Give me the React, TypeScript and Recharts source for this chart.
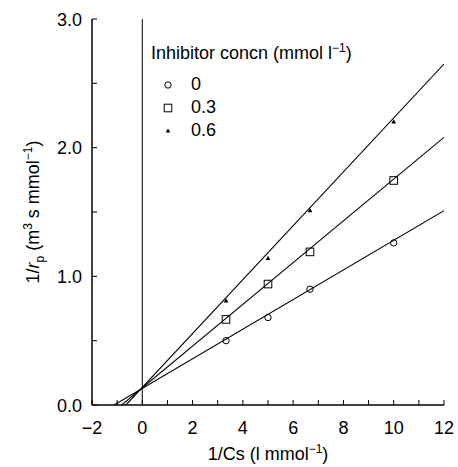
import React from "react";
import {
  ComposedChart,
  Scatter,
  Line,
  XAxis,
  YAxis,
  ReferenceLine,
  Legend,
} from "recharts";

// 1/Cs vs 1/rp, one array per inhibitor concentration
const conc0 = [
  { x: 3.33, y: 0.5 },
  { x: 5, y: 0.68 },
  { x: 6.67, y: 0.9 },
  { x: 10, y: 1.26 },
];
const conc03 = [
  { x: 3.33, y: 0.665 },
  { x: 5, y: 0.94 },
  { x: 6.67, y: 1.19 },
  { x: 10, y: 1.745 },
];
const conc06 = [
  { x: 3.33, y: 0.81 },
  { x: 5, y: 1.14 },
  { x: 6.67, y: 1.51 },
  { x: 10, y: 2.2 },
];

// fitted lines, from the x-intercept to the right edge
const fit0 = [
  { x: -1.12, y: 0 },
  { x: 12, y: 1.51 },
];
const fit03 = [
  { x: -0.82, y: 0 },
  { x: 12, y: 2.08 },
];
const fit06 = [
  { x: -0.65, y: 0 },
  { x: 12, y: 2.65 },
];

const legendLabels = ["0", "0.3", "0.6"];
const xTicks = [-2, -1, 0, 1, 2, 3, 4, 5, 6, 7, 8, 9, 10, 11, 12];
const yTicks = [0, 0.5, 1, 1.5, 2, 2.5, 3];

const FONT = "'Liberation Sans', Arial, Helvetica, sans-serif";
const FS = 18;
const TICK = 5;

const Circle = ({ cx, cy }: any) => (
  <circle cx={cx} cy={cy} r={3.2} fill="none" stroke="#000" strokeWidth={1} />
);
const Square = ({ cx, cy }: any) => (
  <rect x={cx - 3.8} y={cy - 3.8} width={7.6} height={7.6} fill="none" stroke="#000" strokeWidth={1} />
);
const Triangle = ({ cx, cy }: any) => (
  <path d={`M${cx},${cy - 2.6} L${cx + 2.4},${cy + 1.6} L${cx - 2.4},${cy + 1.6} Z`} fill="#000" />
);
const shapes = [Circle, Square, Triangle];

const fmtNum = (v: number) => (v < 0 ? "\u2212" + Math.abs(v) : String(v));

const BottomTick = ({ x, y, payload }: any) => (
  <g>
    <line x1={x} y1={y} x2={x} y2={y - TICK} stroke="#000" strokeWidth={1} />
    {payload.value % 2 === 0 && (
      <text x={x} y={y + 29} textAnchor="middle" fontFamily={FONT} fontSize={FS} fill="#000">
        {fmtNum(payload.value)}
      </text>
    )}
  </g>
);

const TopTick = ({ x, y }: any) => (
  <line x1={x} y1={y} x2={x} y2={y + TICK} stroke="#000" strokeWidth={1} />
);

const LeftTick = ({ x, y, payload }: any) => (
  <g>
    <line x1={x} y1={y} x2={x + TICK} y2={y} stroke="#000" strokeWidth={1} />
    {Number.isInteger(payload.value) && (
      <text x={x - 10} y={y + 6.5} textAnchor="end" fontFamily={FONT} fontSize={FS} fill="#000">
        {payload.value.toFixed(1)}
      </text>
    )}
  </g>
);

const RightTick = ({ x, y }: any) => (
  <line x1={x} y1={y} x2={x - TICK} y2={y} stroke="#000" strokeWidth={1} />
);

const XLabel = ({ viewBox }: any) => {
  const cx = viewBox.x + viewBox.width / 2;
  return (
    <text x={cx} y={viewBox.y + 55} textAnchor="middle" fontFamily={FONT} fontSize={FS} fill="#000">
      1/Cs (l mmol
      <tspan dy={-7} fontSize={12}>{"\u22121"}</tspan>
      <tspan dy={7}>)</tspan>
    </text>
  );
};

const YLabel = ({ viewBox }: any) => {
  const cx = viewBox.x + 39;
  const cy = viewBox.y + viewBox.height / 2;
  return (
    <text
      x={cx}
      y={cy}
      transform={`rotate(-90 ${cx} ${cy})`}
      textAnchor="middle"
      fontFamily={FONT}
      fontSize={FS}
      fill="#000"
    >
      1/<tspan fontStyle="italic">r</tspan>
      <tspan dy={5} fontSize={12}>p</tspan>
      <tspan dy={-5}> (m</tspan>
      <tspan dy={-7} fontSize={12}>3</tspan>
      <tspan dy={7}> s mmol</tspan>
      <tspan dy={-7} fontSize={12}>{"\u22121"}</tspan>
      <tspan dy={7}>)</tspan>
    </text>
  );
};

const LegendBox = () => (
  <div style={{ fontFamily: FONT, fontSize: FS, color: "#000", lineHeight: "23px" }}>
    <div style={{ marginBottom: 8 }}>
      Inhibitor concn (mmol l<sup style={{ fontSize: 12, lineHeight: 0 }}>{"\u22121"}</sup>)
    </div>
    {legendLabels.map((lab, i) => {
      const Shape = shapes[i];
      return (
        <div key={lab} style={{ display: "flex", alignItems: "center", height: 23 }}>
          <svg width={30} height={23}>
            <Shape cx={17} cy={12} />
          </svg>
          <span style={{ marginLeft: 10 }}>{lab}</span>
        </div>
      );
    })}
  </div>
);

export default function App() {
  return (
    <div style={{ position: "absolute", left: 0, top: 0, width: 458, height: 467, background: "#fff" }}>
      <ComposedChart width={458} height={467} margin={{ top: 19, right: 14, bottom: 0, left: 0 }}>
        <XAxis
          xAxisId={0}
          type="number"
          dataKey="x"
          domain={[-2, 12]}
          ticks={xTicks}
          interval={0}
          height={62}
          tickSize={0}
          tickMargin={0}
          tickLine={false}
          tick={<BottomTick />}
          axisLine={{ stroke: "#000", strokeWidth: 1.5 }}
          label={<XLabel />}
          allowDataOverflow
        />
        <XAxis
          xAxisId="top"
          orientation="top"
          type="number"
          domain={[-2, 12]}
          ticks={xTicks}
          interval={0}
          height={0}
          tickSize={0}
          tickMargin={0}
          tickLine={false}
          tick={<TopTick />}
          axisLine={{ stroke: "#000", strokeWidth: 1.5 }}
          allowDataOverflow
        />
        <YAxis
          yAxisId={0}
          type="number"
          dataKey="y"
          domain={[0, 3]}
          ticks={yTicks}
          interval={0}
          width={92}
          tickSize={0}
          tickMargin={0}
          tickLine={false}
          tick={<LeftTick />}
          axisLine={{ stroke: "#000", strokeWidth: 1.5 }}
          label={<YLabel />}
          allowDataOverflow
        />
        <YAxis
          yAxisId="right"
          orientation="right"
          type="number"
          domain={[0, 3]}
          ticks={yTicks}
          interval={0}
          width={0}
          tickSize={0}
          tickMargin={0}
          tickLine={false}
          tick={<RightTick />}
          axisLine={{ stroke: "#000", strokeWidth: 1.5 }}
          allowDataOverflow
        />
        <ReferenceLine x={0} stroke="#000" strokeWidth={1} />
        <Line data={fit0} dataKey="y" stroke="#000" strokeWidth={1.1} dot={false} isAnimationActive={false} legendType="none" />
        <Line data={fit03} dataKey="y" stroke="#000" strokeWidth={1.1} dot={false} isAnimationActive={false} legendType="none" />
        <Line data={fit06} dataKey="y" stroke="#000" strokeWidth={1.1} dot={false} isAnimationActive={false} legendType="none" />
        <Scatter data={conc0} dataKey="y" shape={<Circle />} isAnimationActive={false} />
        <Scatter data={conc03} dataKey="y" shape={<Square />} isAnimationActive={false} />
        <Scatter data={conc06} dataKey="y" shape={<Triangle />} isAnimationActive={false} />
        <Legend
          layout="vertical"
          align="center"
          verticalAlign="middle"
          content={<LegendBox />}
          wrapperStyle={{ top: 42, left: 151, width: 280 }}
        />
      </ComposedChart>
    </div>
  );
}
